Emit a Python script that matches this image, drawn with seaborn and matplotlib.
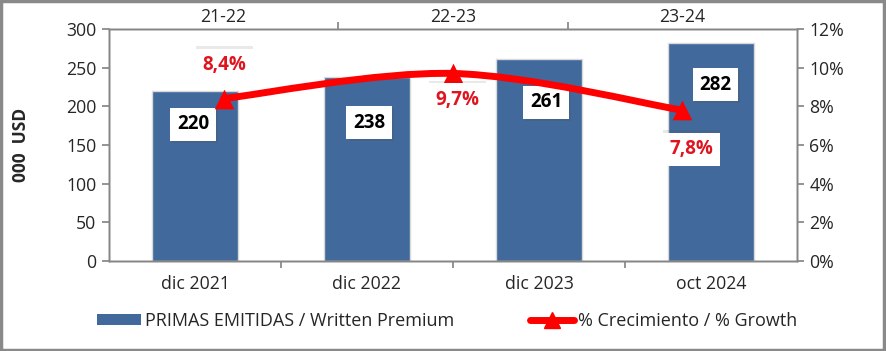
import matplotlib
matplotlib.use("Agg")
import matplotlib.pyplot as plt
import seaborn as sns
import pandas as pd
from matplotlib.path import Path
from matplotlib.patches import PathPatch, Patch, Rectangle
from matplotlib.lines import Line2D
import matplotlib.patheffects as pe

# ---- data ----
categories = ["dic 2021", "dic 2022", "dic 2023", "oct 2024"]
premium = [220, 238, 261, 282]
periods = ["21-22", "22-23", "23-24"]
growth = [8.4, 9.7, 7.8]
growth_labels = ["8,4%", "9,7%", "7,8%"]
left_ticks = [0, 50, 100, 150, 200, 250, 300]
right_ticks = [0, 2, 4, 6, 8, 10, 12]
legend_labels = ["PRIMAS EMITIDAS / Written Premium", "% Crecimiento / % Growth"]

# ---- styles / label placement (points) ----
BLUE = "#41699B"
RED = "#FF0000"
GRAY = "#868686"
bar_label_offsets = [(-1.5, -24), (1.5, -33), (5, -31), (3, -30)]
growth_label_offsets = [(0.5, 24), (3, -19), (6.5, -28)]

sns.set_theme(style="white")
plt.rcParams['font.family'] = ['Open Sans', 'DejaVu Sans']

fig = plt.figure(figsize=(8.86, 3.51), dpi=100)
ax = fig.add_axes([0.123, 0.2564, 0.7765, 0.661])

df = pd.DataFrame({"cat": categories, "val": premium})
sns.barplot(data=df, x="cat", y="val", color=BLUE, width=0.5, saturation=1,
            edgecolor="#d9d9d9", linewidth=1, ax=ax)
ax.set_xlim(-0.5, len(categories) - 0.5)
ax.set_ylim(0, 300)
ax.set_yticks(left_ticks)
ax.set_yticklabels([str(t) for t in left_ticks], fontsize=12.7)
ax.set_xlabel("")
ax.set_ylabel("000  USD", fontsize=12.5, fontweight="bold")
ax.yaxis.set_label_coords(-0.115, 0.5)
# bottom ticks at boundaries, labels centered
ax.set_xticks([i + 0.5 for i in range(len(categories) - 1)])
ax.set_xticklabels([])
ax.set_xticks(range(len(categories)), minor=True)
ax.set_xticklabels(categories, minor=True, fontsize=12.7)
ax.tick_params(axis="x", which="minor", length=0, pad=10)
ax.tick_params(axis="x", which="major", length=5, color=GRAY, direction="out", bottom=True)
ax.tick_params(axis="y", length=5, color=GRAY, direction="out", left=True, pad=4)
for s in ax.spines.values():
    s.set_color(GRAY)
    s.set_linewidth(1)

for i, v in enumerate(premium):
    t = ax.annotate(str(v), xy=(i, v), xytext=bar_label_offsets[i], textcoords="offset points",
                    ha="center", va="center", fontsize=13.5, fontweight="bold", color="black",
                    bbox=dict(boxstyle="square,pad=0.35", fc="white", ec="none"), zorder=5)
    t.get_bbox_patch().set_path_effects([pe.SimplePatchShadow(offset=(1.5, -1.5), alpha=0.2), pe.Normal()])

# right axis
ax2 = ax.twinx()
ax2.set_ylim(0, 12)
ax2.set_yticks(right_ticks)
ax2.set_yticklabels([f"{t}%" for t in right_ticks], fontsize=12.7)
ax2.tick_params(axis="y", length=5, color=GRAY, direction="out", right=True, pad=4)
ax2.grid(False)

# top axis for growth periods
ax3 = ax2.twiny()
ax3.set_xlim(-0.5, len(periods) - 0.5)
ax3.set_xticks([i + 0.5 for i in range(len(periods) - 1)])
ax3.set_xticklabels([])
ax3.set_xticks(range(len(periods)), minor=True)
ax3.set_xticklabels(periods, minor=True, fontsize=12.7)
ax3.tick_params(axis="x", which="minor", length=0, pad=2, top=True)
ax3.tick_params(axis="x", which="major", length=5, color=GRAY, direction="out", top=True)
ax3.grid(False)
for a in (ax2, ax3):
    for s in a.spines.values():
        s.set_color(GRAY)
        s.set_linewidth(1)

# smoothed growth line (Catmull-Rom style Bezier through the data points)
pts = list(zip(range(len(growth)), growth))
verts = [pts[0]]
codes = [Path.MOVETO]
n = len(pts)
for i in range(n - 1):
    p_prev = pts[max(i - 1, 0)]
    p0 = pts[i]
    p1 = pts[i + 1]
    p_next = pts[min(i + 2, n - 1)]
    c1 = (p0[0] + (p1[0] - p_prev[0]) / 6, p0[1] + (p1[1] - p_prev[1]) / 6)
    c2 = (p1[0] - (p_next[0] - p0[0]) / 6, p1[1] - (p_next[1] - p0[1]) / 6)
    verts += [c1, c2, p1]
    codes += [Path.CURVE4] * 3
ax3.add_patch(PathPatch(Path(verts, codes), fill=False, edgecolor=RED, linewidth=5,
                        capstyle="round", joinstyle="round", zorder=3))
gdf = pd.DataFrame({"p": range(len(periods)), "g": growth})
sns.scatterplot(data=gdf, x="p", y="g", marker="^", s=200, color=RED, edgecolor=RED,
                linewidth=0, ax=ax3, zorder=4, legend=False)
ax3.set_xlabel("")
ax3.set_ylabel("")

for i, (g, lab) in enumerate(zip(growth, growth_labels)):
    t = ax3.annotate(lab, xy=(i, g), xytext=growth_label_offsets[i], textcoords="offset points",
                     ha="center", va="center", fontsize=13.5, fontweight="bold", color="#E0141E",
                     bbox=dict(boxstyle="square,pad=0.35", fc="white", ec="none"), zorder=6)
    t.get_bbox_patch().set_path_effects([pe.SimplePatchShadow(offset=(0, 2), alpha=0.12), pe.Normal()])

# legend
handles = [Patch(facecolor=BLUE, edgecolor="none"),
           Line2D([0], [0], color=RED, lw=5, marker="^", markersize=11)]
fig.legend(handles, legend_labels, loc="center", bbox_to_anchor=(0.505, 0.085), ncol=2,
           frameon=False, fontsize=13, handlelength=2.4, handleheight=0.55,
           columnspacing=4.2, handletextpad=0.25)

# outer border
fig.patches.append(Rectangle((0.001, 0.003), 0.997, 0.994, transform=fig.transFigure,
                             fill=False, edgecolor="#898989", linewidth=2.5))

fig.savefig("out.png", dpi=100)
